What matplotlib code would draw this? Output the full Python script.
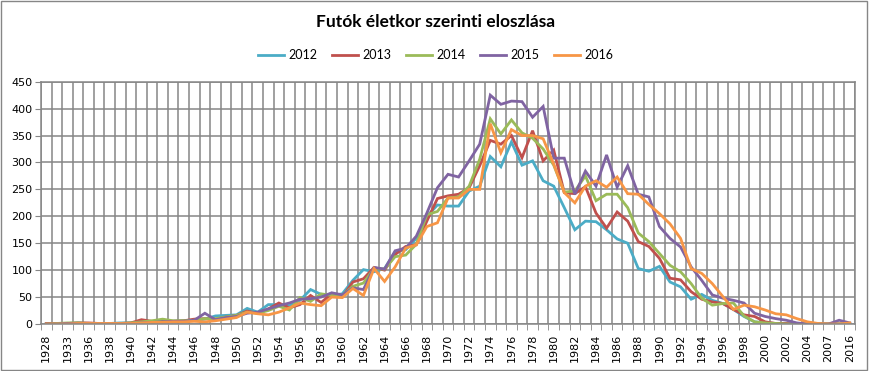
import numpy as np
import matplotlib.pyplot as plt
from matplotlib.ticker import FixedLocator, MultipleLocator
from matplotlib.patches import Rectangle

# birth years (categories of the x axis)
years = [1928, 1931, 1933, 1935, 1936, 1937, 1938, 1939] + list(range(1940, 2006)) + [2007, 2012, 2016]

y2012 = [1, 0, 1, 2, 1, 1, 1, 2,
         2, 3, 4, 5, 5, 6, 7, 9, 15, 16,
         17, 29, 22, 36, 36, 34, 44, 64, 55, 53, 56, 81, 101, 97,
         103, 134, 138, 159, 200, 221, 219, 219, 247, 256, 311, 292, 338, 295, 303, 266, 256, 216,
         175, 191, 190, 175, 158, 150, 103, 98, 107,
         78, 69, 46, 55, 44, 38, 27, 14, 4, 2, 1, 0, 0, 0, 0, 0, 0, 0]
y2013 = [1, 1, 1, 2, 2, 1, 1, 1,
         2, 8, 5, 5, 5, 6, 9, 10, 9, 13,
         16, 24, 20, 28, 39, 30, 36, 53, 40, 56, 50, 78, 84, 105,
         100, 129, 144, 147, 191, 233, 238, 241, 253, 294, 341, 334, 350, 309, 359, 303, 323, 244,
         242, 255, 206, 178, 208, 191, 153, 144, 122,
         85, 82, 60, 46, 41, 38, 27, 17, 14, 4, 1, 1, 0, 0, 0, 0, 0, 0]
y2014 = [0, 1, 2, 2, 1, 1, 1, 1,
         2, 4, 6, 9, 6, 6, 7, 10, 10, 13,
         16, 22, 20, 25, 33, 26, 49, 42, 56, 53, 53, 70, 76, 103,
         102, 125, 128, 148, 203, 209, 234, 236, 256, 306, 381, 353, 379, 355, 345, 325, 295, 245,
         247, 275, 229, 241, 241, 216, 169, 153, 131,
         109, 97, 75, 48, 35, 38, 39, 15, 4, 2, 1, 0, 0, 0, 0, 0, 0, 1]
y2015 = [0, 0, 1, 1, 1, 1, 1, 1,
         1, 2, 3, 4, 5, 5, 7, 20, 8, 12,
         14, 20, 22, 28, 34, 39, 46, 47, 50, 58, 54, 67, 64, 105,
         102, 136, 141, 163, 206, 253, 278, 273, 303, 334, 425, 408, 414, 413, 384, 404, 308, 308,
         241, 284, 256, 314, 254, 294, 241, 236, 181,
         159, 143, 106, 81, 54, 48, 44, 39, 20, 14, 10, 7, 2, 0, 0, 0, 7, 2]
y2016 = [0, 0, 0, 1, 1, 1, 1, 1,
         1, 2, 3, 3, 4, 4, 5, 4, 6, 9,
         12, 22, 19, 17, 22, 30, 39, 36, 34, 50, 49, 66, 53, 103,
         79, 106, 141, 147, 181, 188, 234, 234, 250, 250, 372, 318, 361, 350, 350, 344, 297, 244,
         225, 256, 266, 254, 273, 242, 241, 222, 205,
         186, 159, 103, 94, 75, 51, 27, 35, 32, 26, 19, 17, 10, 4, 1, 0, 0, 2]

series = [('2012', y2012, '#4BACC6'), ('2013', y2013, '#C0504D'),
          ('2014', y2014, '#9BBB59'), ('2015', y2015, '#8064A2'),
          ('2016', y2016, '#F79646')]

fig = plt.figure(figsize=(8.71, 3.71), dpi=100)
ax = fig.add_axes([41/871, 1-324/371, (855-41)/871, (324-81.7)/371])

x = np.arange(len(years))
for name, vals, col in series:
    ax.plot(x, vals, color=col, lw=2.0, label=name, solid_joinstyle='miter')

ax.set_xlim(-0.5, len(years) - 0.5)
ax.set_ylim(0, 450)
ax.yaxis.set_major_locator(MultipleLocator(50))
ax.xaxis.set_major_locator(FixedLocator(x[::2]))
ax.set_xticklabels([str(y) for y in years[::2]], rotation=90, fontsize=8)
ax.xaxis.set_minor_locator(FixedLocator(np.arange(-0.5, len(years), 1)))
ax.tick_params(axis='x', which='major', length=0, pad=7)
ax.tick_params(axis='x', which='minor', length=4, color='#868686')
ax.tick_params(axis='y', length=4, color='#868686', labelsize=8, pad=2)
ax.grid(True, which='minor', axis='x', color='#868686', lw=1.1)
ax.grid(True, which='major', axis='y', color='#868686', lw=1.1)
ax.set_axisbelow(True)
for s in ax.spines.values():
    s.set_color('#868686')
    s.set_linewidth(1.1)

fig.text(0.5, 1 - 22/371, 'Futók életkor szerinti eloszlása', ha='center', va='center',
         fontsize=12.5, fontweight='bold', family='Lato')
fig.legend(loc='center', bbox_to_anchor=(0.5, 1 - 55/371), ncol=5, frameon=False,
           prop={'family': 'Lato', 'size': 9}, handlelength=2.1, handletextpad=0.3,
           columnspacing=1.2)

fig.patches.append(Rectangle((0.001, 0.004), 0.994, 0.993, transform=fig.transFigure,
                             fill=False, edgecolor='#868686', lw=1))

fig.savefig('out.png', dpi=100)
